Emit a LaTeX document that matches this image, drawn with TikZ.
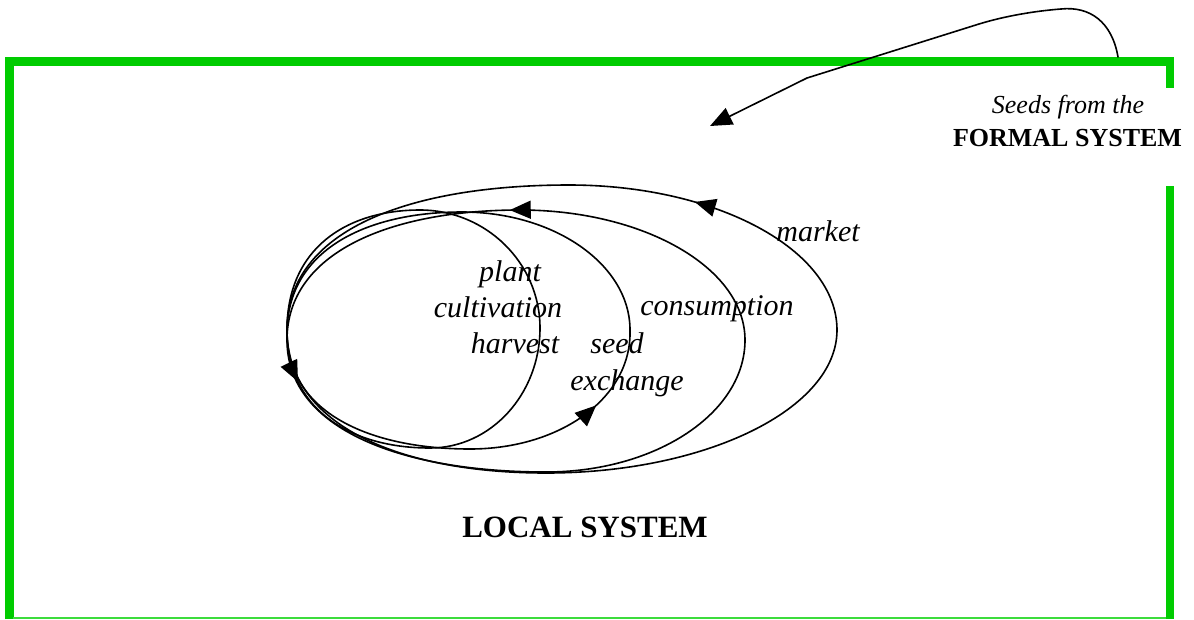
\documentclass[tikz,border=0pt]{standalone}
\usepackage{fontspec}
\setmainfont{Liberation Serif}
\usetikzlibrary{arrows.meta,decorations.markings}
\definecolor{frameGreen}{RGB}{0,204,0}
\definecolor{thinGreen}{RGB}{60,220,60}
\begin{document}
\begin{tikzpicture}[x=1pt,y=-1pt,
  >={Triangle[length=21pt,width=18pt]},
  lbl/.style={font=\fontsize{30}{36}\selectfont\itshape, inner sep=0pt, anchor=base},
  smalllbl/.style={font=\fontsize{26}{31}\selectfont, inner sep=0pt, anchor=base},
  curve/.style={line width=1.6pt, line join=round, line cap=round},
  arrowmark/.style={postaction={decorate}, decoration={markings, mark=at position #1 with {\arrow{>}}}},
  greenline/.style={draw=frameGreen, line width=8.5pt, line join=miter}]
\useasboundingbox (0,0) rectangle (1194,619);

% green frame
\draw[greenline] (9.5,619) -- (9.5,61.5) -- (1170,61.5) -- (1170,88);
\draw[greenline] (1170,186) -- (1170,619);
\draw[draw=thinGreen, line width=2pt] (13,618) -- (1166,618);

% loop points
\coordinate (mB) at (546,473); \coordinate (mR) at (837,330);
\coordinate (mT) at (569,185); \coordinate (mL) at (287,330);
\coordinate (cB) at (546,472); \coordinate (cR) at (745,340);
\coordinate (cT) at (520,210); \coordinate (cL) at (287,340);
\coordinate (sB) at (470,449); \coordinate (sR) at (630,330);
\coordinate (sT) at (462,212); \coordinate (sL) at (287,333);
\coordinate (pB) at (430,448); \coordinate (pR) at (540,328);
\coordinate (pT) at (420,210); \coordinate (pL) at (287,330);

% market loop
\draw[curve, arrowmark=0.408] (mB) .. controls (706,473) and (837,409) .. (mR)
  .. controls (837,250) and (717,185) .. (mT)
  .. controls (413,185) and (287,228) .. (mL)
  .. controls (287,427) and (403,473) .. (mB);
% consumption loop
\draw[curve, arrowmark=0.479] (cB) .. controls (656,472) and (745,413) .. (cR)
  .. controls (745,268) and (644,210) .. (cT)
  .. controls (391,210) and (287,252) .. (cL)
  .. controls (287,430) and (403,472) .. (cB);
% seed exchange loop
\draw[curve, arrowmark=0.147] (sB) .. controls (560,449) and (632,398) .. (sR)
  .. controls (630,265) and (555,212) .. (sT)
  .. controls (365,212) and (287,251) .. (sL)
  .. controls (287,412) and (369,449) .. (sB);
% plant loop
\draw[curve, arrowmark=0.80] (pB) .. controls (491,448) and (540,394) .. (pR)
  .. controls (540,263) and (486,210) .. (pT)
  .. controls (347,210) and (287,248) .. (pL)
  .. controls (287,410) and (351,448) .. (pB);

% arrow from the formal system
\coordinate (fsStart) at (1118,57);
\coordinate (fsTip) at (710,126);
\draw[curve, -{Triangle[length=22pt,width=18pt]}] (fsStart)
  .. controls (1112,22) and (1090,6) .. (1061,9)
  .. controls (1035,11) and (1005,16) .. (979,24)
  -- (807,78) -- (fsTip);

% labels
\node[lbl] (plant) at (510,281) {plant};
\node[lbl] (cultivation) at (498,317) {cultivation};
\node[lbl] (harvest) at (515,353) {harvest};
\node[lbl] (seed) at (617,353) {seed};
\node[lbl] (exchange) at (627,390) {exchange};
\node[lbl] (consumption) at (717,315.5) {consumption};
\node[lbl] (market) at (818,241.5) {market};
\node[smalllbl, font=\fontsize{26}{31}\selectfont\itshape] (seedsfrom) at (1068,113) {Seeds from the};
\node[smalllbl, font=\fontsize{26}{31}\selectfont\bfseries] (formal) at (1067.5,146) {FORMAL SYSTEM};
\node[font=\fontsize{31}{37}\selectfont\bfseries, inner sep=0pt, anchor=base] (local) at (585,537) {LOCAL SYSTEM};
\end{tikzpicture}
\end{document}
